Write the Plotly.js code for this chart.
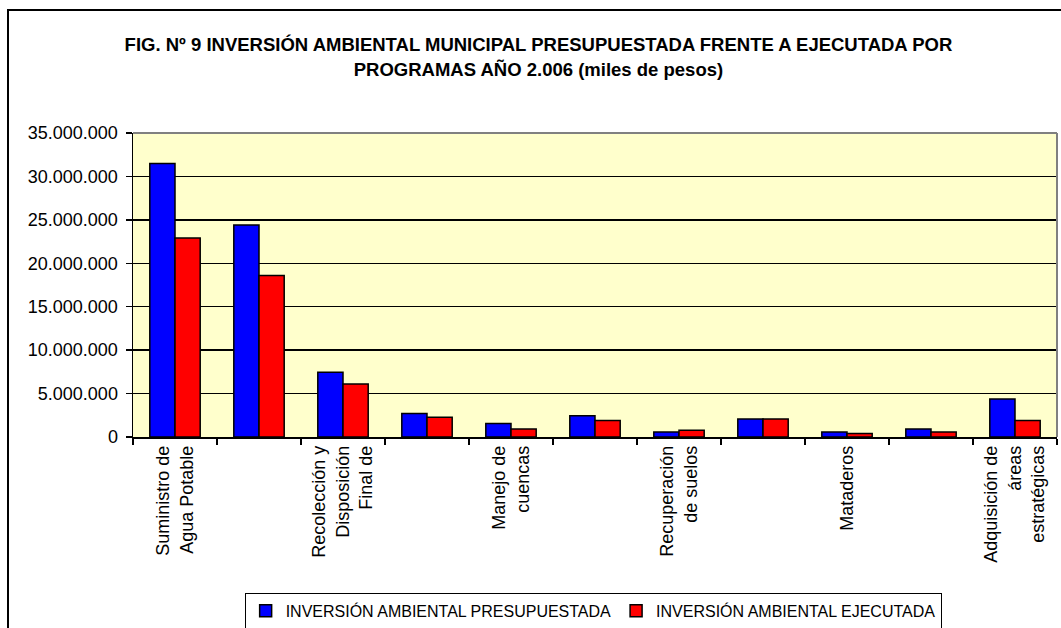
<!DOCTYPE html>
<html>
<head>
<meta charset="utf-8">
<script src="https://cdn.plot.ly/plotly-3.0.1.min.js"></script>
<style>
  html, body { margin: 0; padding: 0; background: #ffffff; }
  #wrap { position: relative; width: 1061px; height: 628px; overflow: hidden; }
  #chart { position: absolute; left: 0; top: 0; width: 1061px; height: 628px; }
  #frame { position: absolute; left: 7px; top: 9px; width: 1100px; height: 700px;
           border-left: 2px solid #000; border-top: 2px solid #000; pointer-events: none; }
</style>
</head>
<body>
<div id="wrap">
  <div id="chart"></div>
  <div id="frame"></div>
</div>
<script>
// Programs (only every other category label is shown in the original chart)
const programas = [
  "Suministro de<br>Agua Potable",
  "",
  "Recolección y<br>Disposición<br>Final de",
  "",
  "Manejo de<br>cuencas",
  "",
  "Recuperación<br>de suelos",
  "",
  "Mataderos",
  "",
  "Adquisición de<br>áreas<br>estratégicas"
];

// Values in miles de pesos
const presupuestada = [31500000, 24400000, 7450000, 2700000, 1550000, 2460000, 580000, 2070000, 580000, 920000, 4370000];
const ejecutada     = [22900000, 18600000, 6100000, 2270000, 920000, 1890000, 770000, 2070000, 390000, 580000, 1890000];

const serieNombres = ["INVERSIÓN AMBIENTAL PRESUPUESTADA", "INVERSIÓN AMBIENTAL EJECUTADA"];
const yTicks = [0, 5000000, 10000000, 15000000, 20000000, 25000000, 30000000, 35000000];

const idx = programas.map((_, i) => i);
const labeledIdx = idx.filter(i => programas[i] !== "");
const labeledText = labeledIdx.map(i => programas[i]);

const font = "Liberation Sans, Arial, sans-serif";

const traces = [
  {
    type: "bar", name: serieNombres[0], x: idx, y: presupuestada,
    marker: { color: "#0000FF", line: { color: "#000000", width: 1.5 } },
    hoverinfo: "y"
  },
  {
    type: "bar", name: serieNombres[1], x: idx, y: ejecutada,
    marker: { color: "#FF0000", line: { color: "#000000", width: 1.5 } },
    hoverinfo: "y"
  }
];

const layout = {
  width: 1061, height: 628,
  margin: { l: 133, r: 4, t: 133, b: 191, autoexpand: false },
  paper_bgcolor: "rgba(0,0,0,0)",
  plot_bgcolor: "#FFFFCC",
  separators: ",.",
  font: { family: font, color: "#000000", size: 17 },
  title: {
    text: "<b>FIG. Nº 9 INVERSIÓN AMBIENTAL MUNICIPAL PRESUPUESTADA FRENTE A EJECUTADA POR<br>PROGRAMAS AÑO 2.006 (miles de pesos)</b>",
    font: { family: font, size: 18.5, color: "#000000" },
    xref: "container", x: 0.5075, xanchor: "center",
    yref: "container", y: 0.918, yanchor: "top"
  },
  barmode: "group",
  bargap: 0.4,
  bargroupgap: 0,
  xaxis: {
    range: [-0.5, programas.length - 0.5],
    tickmode: "array", tickvals: labeledIdx, ticktext: labeledText,
    tickangle: -90,
    ticks: "",
    automargin: false,
    showgrid: false, zeroline: false,
    showline: true, linecolor: "#000000", linewidth: 1.5,
    tickfont: { family: font, size: 18, color: "#000000" },
    minor: { tick0: -0.5, dtick: 1, ticks: "outside", ticklen: 6, tickwidth: 1.5, tickcolor: "#000000", showgrid: false }
  },
  yaxis: {
    range: [0, 35000000],
    tickmode: "array", tickvals: yTicks,
    tickformat: ",d",
    ticks: "outside", ticklen: 6, tickwidth: 1.5, tickcolor: "#000000",
    ticklabelstandoff: 4,
    automargin: false,
    showgrid: true, gridcolor: "#000000", gridwidth: 1.3,
    zeroline: false,
    showline: true, linecolor: "#000000", linewidth: 1.5,
    tickfont: { family: font, size: 18, color: "#000000" }
  },
  shapes: [
    { type: "line", xref: "paper", yref: "paper", x0: 0, x1: 1, y0: 1, y1: 1, line: { color: "#808080", width: 2 } },
    { type: "line", xref: "paper", yref: "paper", x0: 1, x1: 1, y0: 0, y1: 1, line: { color: "#808080", width: 2 } }
  ],
  showlegend: true,
  legend: {
    orientation: "h",
    x: 0.498, xanchor: "center",
    yref: "container", y: 0.056, yanchor: "top",
    bgcolor: "#FFFFFF", bordercolor: "#000000", borderwidth: 1,
    font: { family: font, size: 16, color: "#000000" },
    traceorder: "normal"
  }
};

Plotly.newPlot("chart", traces, layout, { displayModeBar: false, staticPlot: true });
</script>
</body>
</html>
